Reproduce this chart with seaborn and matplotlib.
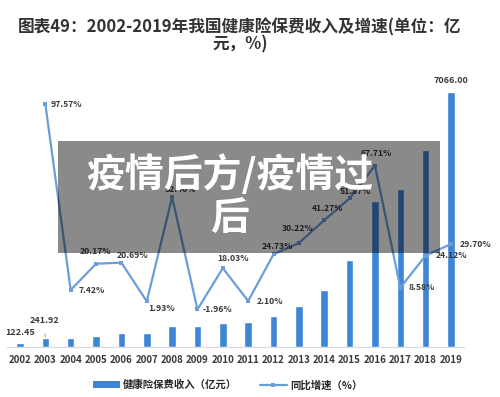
import numpy as np
import pandas as pd
import matplotlib.pyplot as plt
import seaborn as sns
from matplotlib.patches import Rectangle, Patch
from matplotlib.lines import Line2D

years = ['2002', '2003', '2004', '2005', '2006', '2007', '2008', '2009', '2010',
         '2011', '2012', '2013', '2014', '2015', '2016', '2017', '2018', '2019']
premium = [122.45, 241.92, 259.87, 312.29, 376.90, 384.17, 585.46, 573.98, 677.47,
           691.72, 862.76, 1123.50, 1587.18, 2410.47, 4042.50, 4389.46, 5448.13, 7066.00]
growth_years = years[1:]
growth = [97.57, 7.42, 20.17, 20.69, 1.93, 52.40, -1.96, 18.03, 2.10,
          24.73, 30.22, 41.27, 51.87, 67.71, 8.58, 24.12, 29.70]

# label offsets (pixels) for the growth labels
growth_offsets = [(5, 0, 'left'), (8, 0, 'left'), (-1, 12, 'center'), (11, 7, 'center'),
                  (1, -7, 'left'), (8, 8, 'center'), (5, 0, 'left'), (10, 10, 'center'),
                  (9, 0, 'left'), (4, 8, 'center'), (-1, 14, 'center'), (3, 12, 'center'),
                  (6, 7, 'center'), (1, 12, 'center'), (8, 0, 'left'), (10, 0, 'left'),
                  (9, 0, 'left')]

sns.set_style('white')
plt.rcParams['font.family'] = ['Noto Sans CJK SC', 'DejaVu Sans']

bar_color = '#3d85d6'
line_color = '#6b9ed8'
text_color = '#3a3a3a'

df = pd.DataFrame({'year': years, 'premium': premium})
gdf = pd.DataFrame({'pos': [years.index(y) for y in growth_years], 'growth': growth})

fig = plt.figure(figsize=(5, 3.97), dpi=100)
ax = fig.add_axes([0.0146, 0.1259, 0.9128, 0.7229])
sns.barplot(data=df, x='year', y='premium', color=bar_color, width=0.3,
            saturation=1, ax=ax)
ax.set_xlim(-0.5, 17.5)
ax.set_ylim(0, 7952)
ax.set_xlabel('')
ax.set_ylabel('')
ax.set_yticks([])
for s in ['top', 'left', 'right']:
    ax.spines[s].set_visible(False)
ax.spines['bottom'].set_color('#d9d9d9')
ax.tick_params(axis='x', length=0, pad=6)
for t in ax.get_xticklabels():
    t.set_fontsize(7)
    t.set_fontweight('bold')
    t.set_color(text_color)

ax2 = ax.twinx()
sns.lineplot(data=gdf, x='pos', y='growth', color=line_color, lw=1.6,
             marker='s', markersize=3.5, markeredgewidth=0, ax=ax2)
ax2.set_ylim(-20.2, 118.9)
ax2.set_xlim(-0.5, 17.5)
ax2.set_yticks([])
ax2.set_ylabel('')
ax2.set_xlabel('')
for s in ax2.spines.values():
    s.set_visible(False)

for (x, y, (dx, dy, ha)) in zip(gdf['pos'], gdf['growth'], growth_offsets):
    ax2.annotate(f'{y:.2f}%', (x, y), xytext=(dx, dy), textcoords='offset pixels',
                 ha=ha, va='center', fontsize=6.2, fontweight='bold', color=text_color)

ax.annotate(f'{premium[0]:.2f}', (0, premium[0]), xytext=(0, 10), textcoords='offset pixels',
            ha='center', va='center', fontsize=6.5, fontweight='bold', color=text_color)
ax.annotate(f'{premium[1]:.2f}', (1, premium[1]), xytext=(-1, 18), textcoords='offset pixels',
            ha='center', va='center', fontsize=6.5, fontweight='bold', color=text_color,
            arrowprops=dict(arrowstyle='-', color='#999999', lw=0.6, shrinkA=4, shrinkB=1))
ax.annotate(f'{premium[-1]:.2f}', (17, premium[-1]), xytext=(0, 12), textcoords='offset pixels',
            ha='center', va='center', fontsize=6.5, fontweight='bold', color=text_color)

fig.text(0.48, 1 - 27 / 397, '图表49：2002-2019年我国健康险保费收入及增速(单位：亿',
         ha='center', va='center', fontsize=12, fontweight='bold', color='#333333')
fig.text(0.48, 1 - 44 / 397, '元，%)', ha='center', va='center', fontsize=12,
         fontweight='bold', color='#333333')

handles = [Patch(facecolor=bar_color, edgecolor='none'),
           Line2D([0], [0], color=line_color, lw=1.6, marker='s', markersize=3.5,
                  markeredgewidth=0)]
fig.legend(handles, ['健康险保费收入（亿元）', '同比增速（%）'], loc='center',
           bbox_to_anchor=(0.455, 1 - 385 / 397), ncol=2, frameon=False,
           handlelength=2.6, handleheight=0.6, columnspacing=2.2,
           handletextpad=0.3, prop={'weight': 'bold', 'size': 7.5})

# overlay banner
fig.add_artist(Rectangle((58 / 500, 1 - 253 / 397), 382 / 500, 112 / 397,
                         transform=fig.transFigure, facecolor='black', alpha=0.46,
                         edgecolor='none', zorder=5))
fig.text(230 / 500, 1 - 175 / 397, '疫情后方/疫情过', ha='center', va='center',
         fontsize=28, fontweight='bold', color='white', zorder=6)
fig.text(230 / 500, 1 - 219 / 397, '后', ha='center', va='center',
         fontsize=28, fontweight='bold', color='white', zorder=6)

fig.savefig('out.png', dpi=100)
